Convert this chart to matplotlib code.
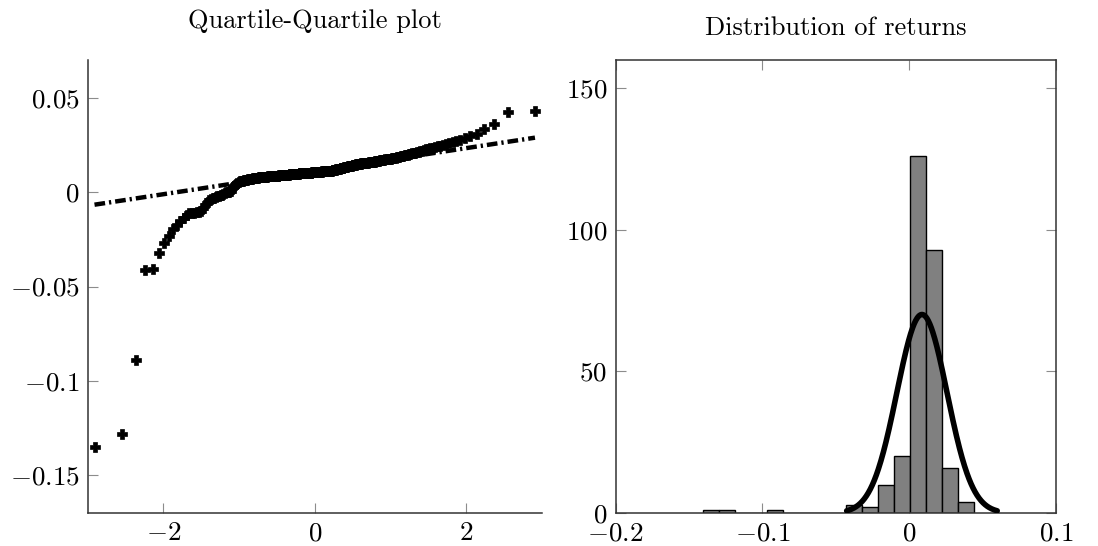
import numpy as np
import matplotlib
matplotlib.use("Agg")
import matplotlib.pyplot as plt
from matplotlib.ticker import FuncFormatter
from statistics import NormalDist

returns = [
    -0.135, -0.128, -0.089, -0.041, -0.0405, -0.0325, -0.0272, -0.023,
    -0.0197, -0.0175, -0.0155, -0.0135, -0.0122, -0.0112, -0.0110, -0.0109, -0.0107, -0.0104,
    -0.0098, -0.0084, -0.0070, -0.0056, -0.0043, -0.0037, -0.0033, -0.0030, -0.0026, -0.0023,
    -0.0020, -0.0017, -0.0014, -0.0011, -0.0006, -0.0001, 0.0002, 0.0003, 0.0004, 0.0005,
    0.0029, 0.0034, 0.0039, 0.0044, 0.0049, 0.0053, 0.0057,
    0.0059, 0.0060, 0.0061, 0.0063, 0.0064, 0.0065, 0.0066, 0.0067, 0.0068, 0.0069,
    0.0071, 0.0072, 0.0073, 0.0074, 0.0075, 0.0076,
    0.0077, 0.0077, 0.0078, 0.0078, 0.0079, 0.0079, 0.0080, 0.0080, 0.0081, 0.0081,
    0.0082, 0.0082, 0.0082, 0.0083, 0.0083, 0.0084, 0.0084, 0.0085, 0.0085, 0.0085,
    0.0086, 0.0086, 0.0087, 0.0087, 0.0087, 0.0088, 0.0088, 0.0089, 0.0089, 0.0089,
    0.0090, 0.0090, 0.0091, 0.0091, 0.0091, 0.0092, 0.0092, 0.0092, 0.0093, 0.0093,
    0.0093, 0.0094,
    0.0094, 0.0095, 0.0095, 0.0095, 0.0096, 0.0096, 0.0096, 0.0097, 0.0097, 0.0097,
    0.0098, 0.0098, 0.0098, 0.0099, 0.0099, 0.0099, 0.0100, 0.0100, 0.0100, 0.0101,
    0.0101, 0.0101, 0.0102, 0.0102, 0.0102, 0.0103, 0.0103, 0.0103, 0.0104, 0.0104,
    0.0104, 0.0105, 0.0105, 0.0105, 0.0106, 0.0106, 0.0106, 0.0107, 0.0107, 0.0107,
    0.0108, 0.0108, 0.0108, 0.0109, 0.0109, 0.0109, 0.0110, 0.0110, 0.0110, 0.0111,
    0.0111, 0.0111, 0.0112, 0.0112, 0.0112, 0.0112, 0.0113, 0.0113, 0.0113, 0.0113,
    0.0113,
    0.0115, 0.0116, 0.0117, 0.0118, 0.0119, 0.0120, 0.0121, 0.0122, 0.0123, 0.0124,
    0.0125, 0.0126, 0.0127, 0.0128, 0.0129, 0.0130, 0.0131, 0.0132, 0.0133, 0.0134,
    0.0135, 0.0136, 0.0137, 0.0138, 0.0139, 0.0140, 0.0141, 0.0142, 0.0143, 0.0144,
    0.0145, 0.0146, 0.0147, 0.0147, 0.0148, 0.0149, 0.0150, 0.0151, 0.0152, 0.0152,
    0.0153, 0.0154, 0.0155, 0.0155, 0.0156, 0.0157, 0.0157, 0.0158, 0.0158, 0.0159,
    0.0159, 0.0160,
    0.0161, 0.0162, 0.0163, 0.0164, 0.0165, 0.0166, 0.0167, 0.0168, 0.0169, 0.0170,
    0.0171, 0.0172, 0.0173, 0.0174, 0.0175, 0.0176, 0.0177, 0.0178, 0.0179, 0.0180,
    0.0182, 0.0183, 0.0185, 0.0186, 0.0188, 0.0189, 0.0191, 0.0193, 0.0195, 0.0197,
    0.0199, 0.0201, 0.0203, 0.0205, 0.0207, 0.0209, 0.0211, 0.0213, 0.0216, 0.0219, 0.0222,
    0.0227, 0.0230, 0.0232, 0.0235, 0.0238, 0.0242, 0.0246, 0.0250, 0.0255, 0.0259,
    0.0264, 0.0270, 0.0277, 0.0286, 0.0296, 0.0310,
    0.0336, 0.0362, 0.0423, 0.0429,
]

# histogram bins
hist_start = -0.1405
hist_width = 0.01085
hist_nbins = 17

# fitted normal (mean, std) and the Q-Q reference line
fit_mean = 0.0087
fit_std = 0.0171
qq_intercept = 0.0111
qq_slope = 0.0061

qq_xticks = [-2, 0, 2]
qq_yticks = [-0.15, -0.1, -0.05, 0, 0.05]
hist_xticks = [-0.2, -0.1, 0, 0.1]
hist_yticks = [0, 50, 100, 150]

plt.rcParams["mathtext.fontset"] = "cm"
plt.rcParams["font.family"] = ["cmr10", "DejaVu Serif"]
plt.rcParams["axes.formatter.use_mathtext"] = True


def tex_fmt(v, pos):
    s = "{:g}".format(round(v, 4))
    if s == "-0":
        s = "0"
    return "$" + s + "$"


spine_col = "#333333"
tick_col = "#8c8c8c"
fs = 19.5

fig = plt.figure(figsize=(10.98, 5.46), dpi=100)

# ---- Q-Q plot ----
ax1 = fig.add_axes([0.0799, 0.0604, 0.4135, 0.8297])
data = np.sort(np.array(returns))
n = len(data)
nd = NormalDist()
theo = np.array([nd.inv_cdf((i + 0.5) / n) for i in range(n)])

line_x = np.array([theo[0], theo[-1]])
ax1.plot(line_x, qq_intercept + qq_slope * line_x, color="black", lw=3.2,
         linestyle=(0, (2.4, 0.9, 0.5, 0.9)), zorder=2)
ax1.plot(theo, data, linestyle="none", marker="P", ms=7.5, mew=0.5,
         color="black", zorder=3)

ax1.set_xlim(-3, 3)
ax1.set_ylim(-0.17, 0.07)
ax1.set_xticks(qq_xticks)
ax1.set_yticks(qq_yticks)
ax1.spines["top"].set_visible(False)
ax1.spines["right"].set_visible(False)
ax1.set_title("Quartile-Quartile plot", fontsize=19, pad=23)

# ---- histogram ----
ax2 = fig.add_axes([0.5607, 0.0604, 0.401, 0.8297])
edges = hist_start + hist_width * np.arange(hist_nbins + 1)
ax2.hist(data, bins=edges, color="#808080", edgecolor="black", linewidth=1.0, zorder=2)

gx = np.linspace(fit_mean - 3 * fit_std, fit_mean + 3 * fit_std, 300)
fit = NormalDist(fit_mean, fit_std)
gy = np.array([fit.pdf(v) for v in gx]) * n * hist_width
ax2.plot(gx, gy, color="black", lw=4, solid_capstyle="round", zorder=3)

ax2.set_xlim(-0.2, 0.1)
ax2.set_ylim(0, 160)
ax2.set_xticks(hist_xticks)
ax2.set_yticks(hist_yticks)
ax2.tick_params(top=True, right=True)
ax2.set_title("Distribution of returns", fontsize=19, pad=18)

for ax in (ax1, ax2):
    for sp in ax.spines.values():
        sp.set_color(spine_col)
        sp.set_linewidth(1.1)
    ax.tick_params(direction="in", length=7.5, width=0.8, color=tick_col,
                   labelsize=fs, pad=6, labelcolor="black")
    ax.xaxis.set_major_formatter(FuncFormatter(tex_fmt))
    ax.yaxis.set_major_formatter(FuncFormatter(tex_fmt))

fig.savefig("out.png", dpi=100)
